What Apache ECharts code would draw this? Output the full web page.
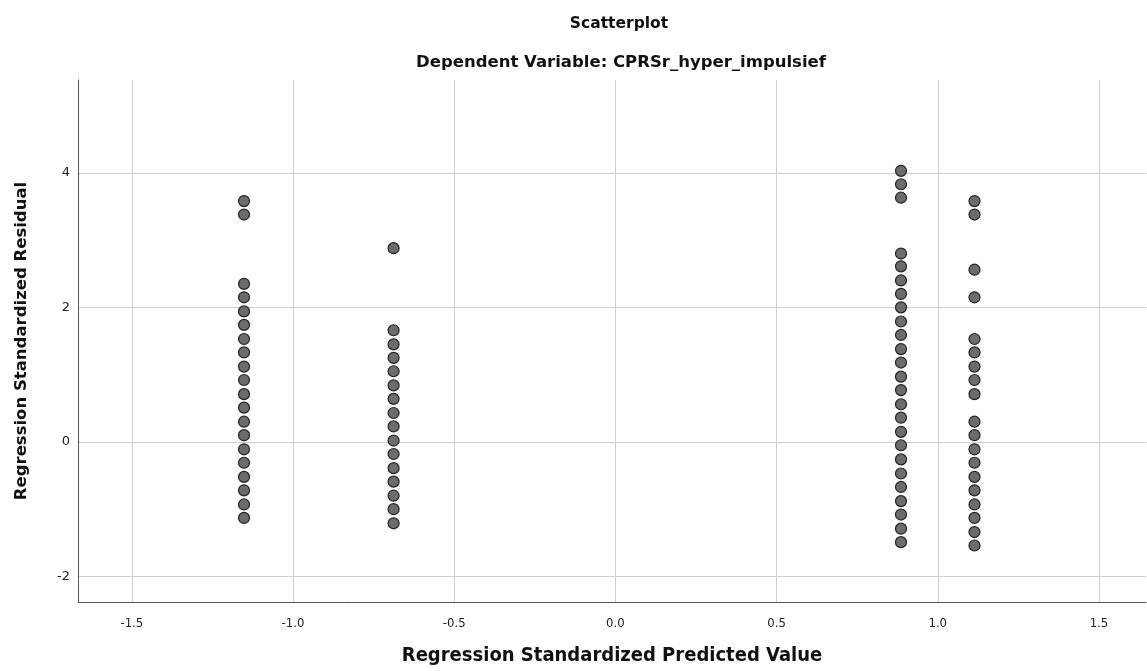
<!DOCTYPE html>
<html>
<head>
<meta charset="utf-8">
<script src="https://cdn.jsdelivr.net/npm/echarts@6/dist/echarts.min.js"></script>
<style>
html,body{margin:0;padding:0;background:#fff;}
#chart{width:1147px;height:671px;}
</style>
</head>
<body>
<div id="chart"></div>
<script>
// Predicted value (x) of each vertical group
const groupX = [-1.152, -0.688, 0.886, 1.114];
// Standardized residuals in each group
const group1 = [3.58, 3.38, 2.35, 2.15, 1.94, 1.74, 1.53, 1.33, 1.12, 0.92, 0.71, 0.51, 0.30, 0.10, -0.11, -0.31, -0.52, -0.72, -0.93, -1.13];
const group2 = [2.88, 1.66, 1.45, 1.25, 1.05, 0.84, 0.64, 0.43, 0.23, 0.02, -0.18, -0.39, -0.59, -0.80, -1.00, -1.21];
const group3 = [4.03, 3.83, 3.63, 2.80, 2.61, 2.40, 2.20, 2.00, 1.79, 1.59, 1.38, 1.18, 0.97, 0.77, 0.56, 0.36, 0.15, -0.05, -0.26, -0.47, -0.67, -0.88, -1.08, -1.29, -1.49];
const group4 = [3.58, 3.38, 2.56, 2.15, 1.53, 1.33, 1.12, 0.92, 0.71, 0.30, 0.10, -0.11, -0.31, -0.52, -0.72, -0.93, -1.13, -1.34, -1.54];
const xTicks = [-1.5, -1.0, -0.5, 0.0, 0.5, 1.0, 1.5];
const yTicks = [-2, 0, 2, 4];

const groups = [group1, group2, group3, group4];
const points = [];
groups.forEach((g, i) => g.forEach(v => points.push([groupX[i], v])));

const chart = echarts.init(document.getElementById('chart'), null, {renderer: 'canvas'});
chart.setOption({
  animation: false,
  backgroundColor: '#ffffff',
  title: [
    {text: 'Scatterplot', left: 614, top: 11, textAlign: 'center',
     textStyle: {fontFamily: 'DejaVu Sans', fontWeight: 'bold', fontSize: 15.5, color: '#111'}},
    {text: 'Dependent Variable: CPRSr_hyper_impulsief', left: 616, top: 49, textAlign: 'center',
     textStyle: {fontFamily: 'DejaVu Sans', fontWeight: 'bold', fontSize: 16.5, color: '#111'}}
  ],
  grid: {left: 78, top: 80, right: 1, bottom: 68, containLabel: false},
  xAxis: {
    type: 'value', min: -1.667, max: 1.646,
    name: 'Regression Standardized Predicted Value',
    nameLocation: 'middle', nameGap: 44,
    nameTextStyle: {fontFamily: 'DejaVu Sans Condensed', fontWeight: 'bold', fontSize: 20, color: '#111'},
    axisLine: {show: true, onZero: false, lineStyle: {color: '#555', width: 1}},
    axisTick: {show: false, customValues: xTicks},
    axisLabel: {customValues: xTicks, formatter: v => v.toFixed(1), margin: 15,
      fontFamily: 'DejaVu Sans Condensed', fontSize: 13, color: '#222'},
    splitLine: {show: true, lineStyle: {color: '#cfcfcf', width: 1}}
  },
  yAxis: {
    type: 'value', min: -2.38, max: 5.38,
    name: 'Regression Standardized Residual',
    nameLocation: 'middle', nameGap: 48, nameRotate: 90,
    nameTextStyle: {fontFamily: 'DejaVu Sans', fontWeight: 'bold', fontSize: 16.5, color: '#111'},
    axisLine: {show: true, onZero: false, lineStyle: {color: '#555', width: 1}},
    axisTick: {show: false, customValues: yTicks},
    axisLabel: {customValues: yTicks, margin: 8, fontFamily: 'DejaVu Sans', fontSize: 13, color: '#222',
      formatter: v => String(v)},
    splitLine: {show: true, lineStyle: {color: '#cfcfcf', width: 1}}
  },
  series: [{
    type: 'scatter',
    data: points,
    symbol: 'circle',
    symbolSize: 11,
    itemStyle: {color: '#6c6c6c', borderColor: '#222', borderWidth: 1.2, opacity: 1}
  }]
});
</script>
</body>
</html>
